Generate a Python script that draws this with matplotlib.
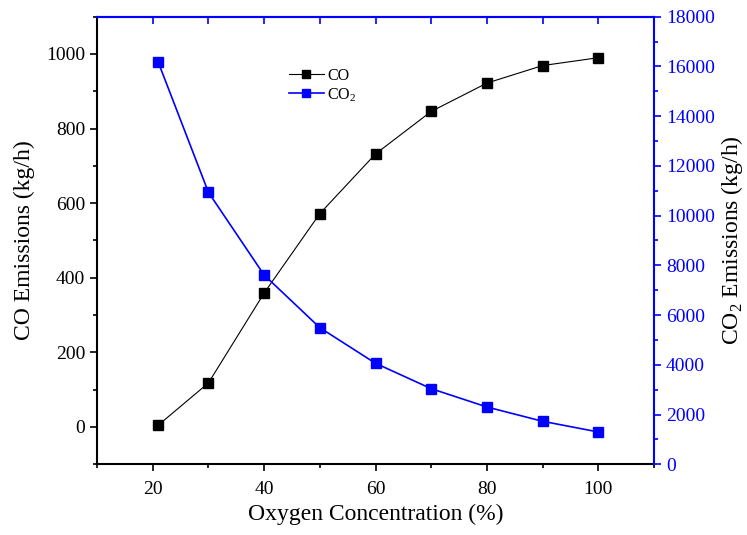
import matplotlib
matplotlib.use("Agg")
import matplotlib.pyplot as plt
from matplotlib.ticker import MultipleLocator

plt.rcParams['font.family'] = ['Liberation Serif', 'DejaVu Serif']
plt.rcParams['mathtext.fontset'] = 'custom'
plt.rcParams['mathtext.rm'] = 'Liberation Serif'

oxygen = [21, 30, 40, 50, 60, 70, 80, 90, 100]
co = [5, 118, 359, 572, 732, 846, 922, 969, 990]
co2 = [16165, 10937, 7612, 5493, 4061, 3040, 2304, 1729, 1299]

fig = plt.figure(figsize=(7.47, 5.35), dpi=100)
ax = fig.add_axes([0.1299, 0.1322, 0.7456, 0.8366])
ax2 = ax.twinx()

l1, = ax.plot(oxygen, co, color='black', lw=0.8, marker='s', ms=7,
              mfc='black', mec='black', label='CO')
l2, = ax2.plot(oxygen, co2, color='blue', lw=1.2, marker='s', ms=7,
               mfc='blue', mec='blue', label='CO$_2$')

ax.set_xlim(10, 110)
ax.set_ylim(-100, 1100)
ax2.set_ylim(0, 18000)

ax.xaxis.set_major_locator(MultipleLocator(20))
ax.xaxis.set_minor_locator(MultipleLocator(10))
ax.yaxis.set_major_locator(MultipleLocator(200))
ax.yaxis.set_minor_locator(MultipleLocator(100))
ax2.yaxis.set_major_locator(MultipleLocator(2000))
ax2.yaxis.set_minor_locator(MultipleLocator(1000))

ax.tick_params(axis='both', which='major', direction='out', length=5, width=1.2,
               labelsize=14, colors='black', top=False, right=False)
ax.tick_params(axis='x', which='major', pad=7)
ax.tick_params(axis='both', which='minor', direction='out', length=3, width=1.2,
               top=False, right=False)
ax2.tick_params(axis='y', which='major', direction='out', length=5, width=1.2,
                labelsize=14, colors='blue')
ax2.tick_params(axis='y', which='minor', direction='out', length=3, width=1.2,
                colors='blue')

# top axis: blue ticks at every 10, pointing inward, no labels
top = ax.secondary_xaxis('top')
top.set_xticks(range(10, 111, 10))
top.tick_params(axis='x', direction='in', length=5, width=1.2, colors='blue',
                labeltop=False)
top.spines['top'].set_color('blue')
top.spines['top'].set_linewidth(1.5)

for s in ('left', 'bottom'):
    ax.spines[s].set_linewidth(1.5)
    ax.spines[s].set_color('black')
ax2.spines['right'].set_color('blue')
ax2.spines['right'].set_linewidth(1.5)
ax2.spines['top'].set_color('blue')
ax2.spines['top'].set_linewidth(1.5)
ax2.spines['left'].set_visible(False)
ax2.spines['bottom'].set_visible(False)
ax.spines['top'].set_visible(False)
ax.spines['right'].set_visible(False)

ax.set_xlabel('Oxygen Concentration (%)', fontsize=17, labelpad=4)
ax.set_ylabel('CO Emissions (kg/h)', fontsize=17, labelpad=8)
ax2.set_ylabel('CO$_2$ Emissions (kg/h)', fontsize=17, labelpad=3, color='black')

leg = fig.legend(handles=[l1, l2], loc='upper left',
                 bbox_to_anchor=(279 / 747, 1 - 58 / 535), frameon=False,
                 fontsize=11.5, handlelength=2.2, handletextpad=0.2,
                 labelspacing=0.15, borderpad=0.1)
for h in leg.legend_handles:
    h.set_markersize(6)

fig.savefig('out.png', dpi=100)
